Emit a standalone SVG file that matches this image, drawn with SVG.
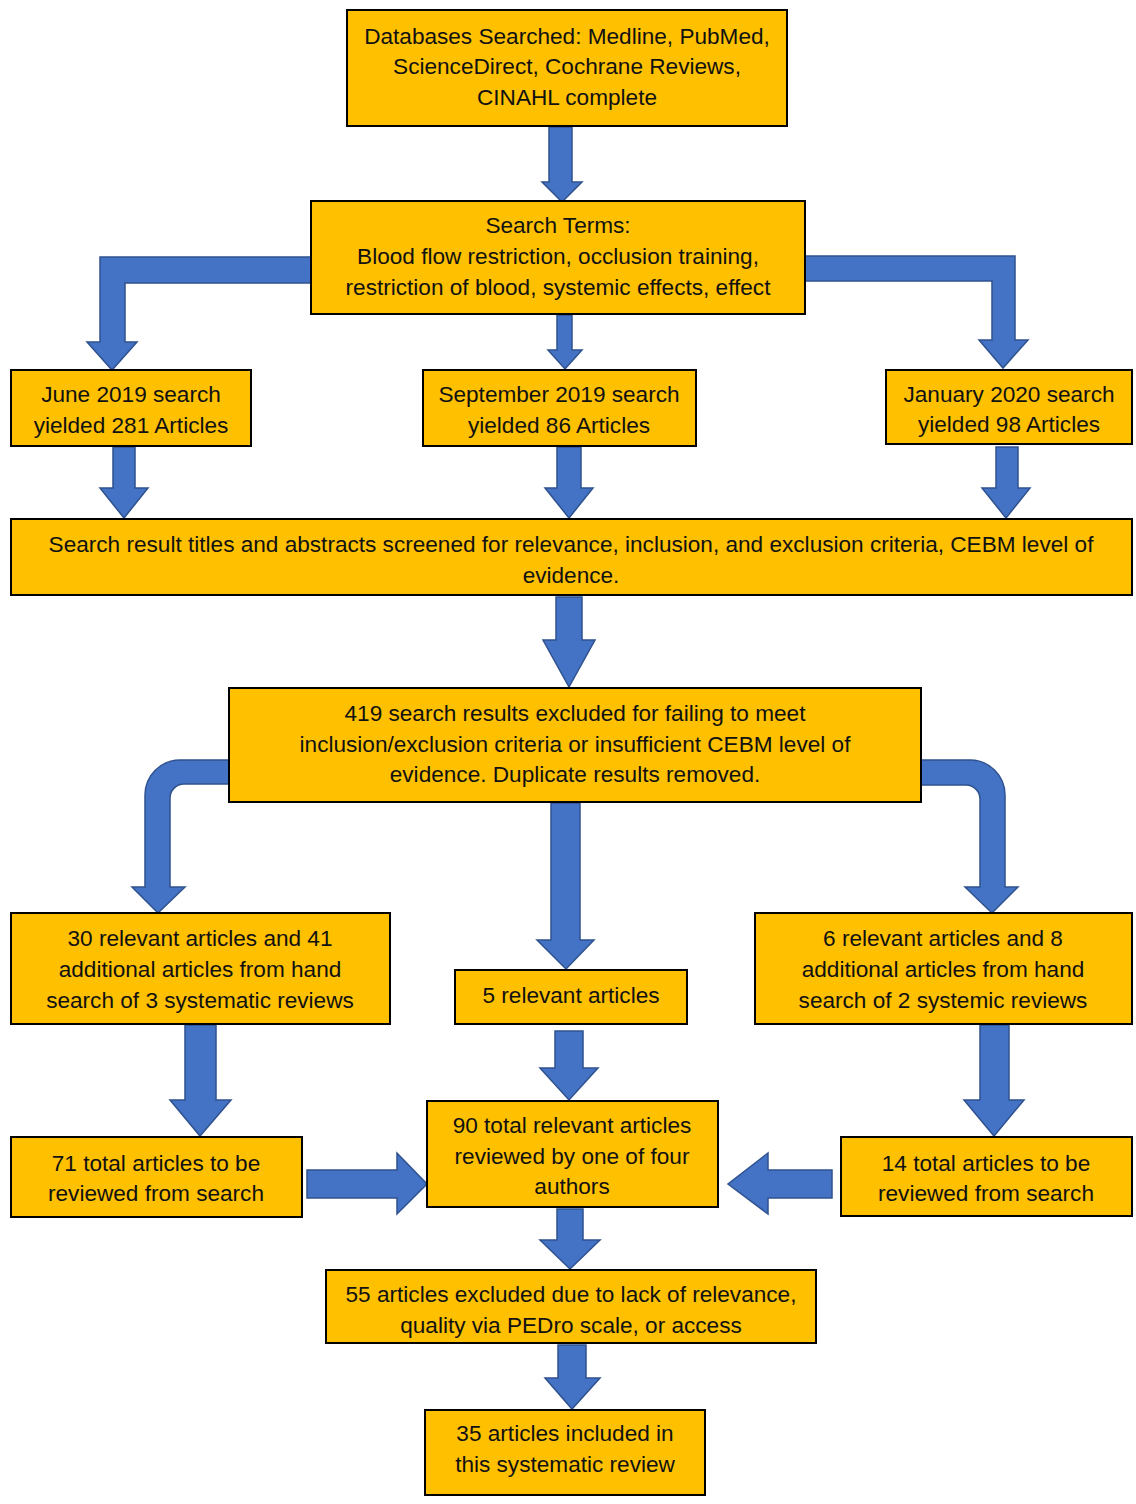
<svg xmlns="http://www.w3.org/2000/svg" width="1136" height="1504" viewBox="0 0 1136 1504">
<style>
.box{fill:#FFC000;stroke:#000;stroke-width:2}
.arr{fill:#4472C4;stroke:#2F528F;stroke-width:1.5;stroke-linejoin:miter}
text{font-family:"Liberation Sans",Arial,sans-serif;font-size:22.6px;fill:#111;text-anchor:middle}
</style>
<rect width="1136" height="1504" fill="#fff"/>
<g id="connectors">
<path class="arr" d="M549,127 H572 V182 H582 L562,202 L542,182 H549 Z"/>
<path class="arr" d="M311,257 H100 V342 H87 L112,370 L137,342 H125 V283 H311 Z"/>
<path class="arr" d="M805,256 H1015 V340 H1028 L1003,368 L979,340 H992 V281 H805 Z"/>
<path class="arr" d="M557,315 H572 V350 H582 L565,369 L548,350 H557 Z"/>
<path class="arr" d="M113,447 H135 V488 H148 L124,518 L100,488 H113 Z"/>
<path class="arr" d="M557,447 H581 V488 H593 L569,518 L545,488 H557 Z"/>
<path class="arr" d="M996,447 H1018 V488 H1030 L1006,518 L982,488 H996 Z"/>
<path class="arr" d="M556,597 H582 V640 H595 L569,687 L543,640 H556 Z"/>
<path class="arr" d="M229,760 H180 A35,35 0 0 0 145,795 V887 H132 L158,913 L185,887 H170 V798 A14,14 0 0 1 184,784 H229 Z"/>
<path class="arr" d="M921,760 H970 A35,35 0 0 1 1005,795 V887 H1018 L992,913 L965,887 H980 V799 A14,14 0 0 0 966,785 H921 Z"/>
<path class="arr" d="M551,803 H580 V940 H594 L566,969 L537,940 H551 Z"/>
<path class="arr" d="M185,1025 H216 V1100 H231 L200,1136 L170,1100 H185 Z"/>
<path class="arr" d="M980,1025 H1009 V1100 H1024 L994,1136 L964,1100 H980 Z"/>
<path class="arr" d="M555,1031 H583 V1068 H598 L569,1100 L540,1068 H555 Z"/>
<path class="arr" d="M307,1170 H397 V1153 L427,1184 L397,1214 V1198 H307 Z"/>
<path class="arr" d="M832,1170 H768 V1153 L728,1184 L768,1214 V1198 H832 Z"/>
<path class="arr" d="M557,1209 H583 V1240 H600 L570,1269 L540,1240 H557 Z"/>
<path class="arr" d="M558,1345 H586 V1378 H600 L572,1409 L545,1378 H558 Z"/>
</g>
<g id="n1"><rect class="box" x="347" y="10" width="440" height="116"/>
<text x="567" y="44">Databases Searched: Medline, PubMed,</text>
<text x="567" y="74">ScienceDirect, Cochrane Reviews,</text>
<text x="567" y="105">CINAHL complete</text></g>
<g id="n2"><rect class="box" x="311" y="201" width="494" height="113"/>
<text x="558" y="233">Search Terms:</text>
<text x="558" y="264">Blood flow restriction, occlusion training,</text>
<text x="558" y="295">restriction of blood, systemic effects, effect</text></g>
<g id="n3"><rect class="box" x="11" y="370" width="240" height="76"/>
<text x="131" y="402">June 2019 search</text>
<text x="131" y="433">yielded 281 Articles</text></g>
<g id="n4"><rect class="box" x="423" y="370" width="273" height="76"/>
<text x="559" y="402">September 2019 search</text>
<text x="559" y="433">yielded 86 Articles</text></g>
<g id="n5"><rect class="box" x="886" y="370" width="246" height="74"/>
<text x="1009" y="402">January 2020 search</text>
<text x="1009" y="432">yielded 98 Articles</text></g>
<g id="n6"><rect class="box" x="11" y="519" width="1121" height="76"/>
<text x="571" y="552">Search result titles and abstracts screened for relevance, inclusion, and exclusion criteria, CEBM level of</text>
<text x="571" y="583">evidence.</text></g>
<g id="n7"><rect class="box" x="229" y="688" width="692" height="114"/>
<text x="575" y="721">419 search results excluded for failing to meet</text>
<text x="575" y="752">inclusion/exclusion criteria or insufficient CEBM level of</text>
<text x="575" y="782">evidence. Duplicate results removed.</text></g>
<g id="n8"><rect class="box" x="11" y="913" width="379" height="111"/>
<text x="200" y="946">30 relevant articles and 41</text>
<text x="200" y="977">additional articles from hand</text>
<text x="200" y="1008">search of 3 systematic reviews</text></g>
<g id="n9"><rect class="box" x="455" y="970" width="232" height="54"/>
<text x="571" y="1003">5 relevant articles</text></g>
<g id="n10"><rect class="box" x="755" y="913" width="377" height="111"/>
<text x="943" y="946">6 relevant articles and 8</text>
<text x="943" y="977">additional articles from hand</text>
<text x="943" y="1008">search of 2 systemic reviews</text></g>
<g id="n11"><rect class="box" x="11" y="1137" width="291" height="80"/>
<text x="156" y="1171">71 total articles to be</text>
<text x="156" y="1201">reviewed from search</text></g>
<g id="n12"><rect class="box" x="427" y="1101" width="291" height="106"/>
<text x="572" y="1133">90 total relevant articles</text>
<text x="572" y="1164">reviewed by one of four</text>
<text x="572" y="1194">authors</text></g>
<g id="n13"><rect class="box" x="841" y="1137" width="291" height="79"/>
<text x="986" y="1171">14 total articles to be</text>
<text x="986" y="1201">reviewed from search</text></g>
<g id="n14"><rect class="box" x="326" y="1270" width="490" height="73"/>
<text x="571" y="1302">55 articles excluded due to lack of relevance,</text>
<text x="571" y="1333">quality via PEDro scale, or access</text></g>
<g id="n15"><rect class="box" x="425" y="1410" width="280" height="85"/>
<text x="565" y="1441">35 articles included in</text>
<text x="565" y="1472">this systematic review</text></g>
</svg>
